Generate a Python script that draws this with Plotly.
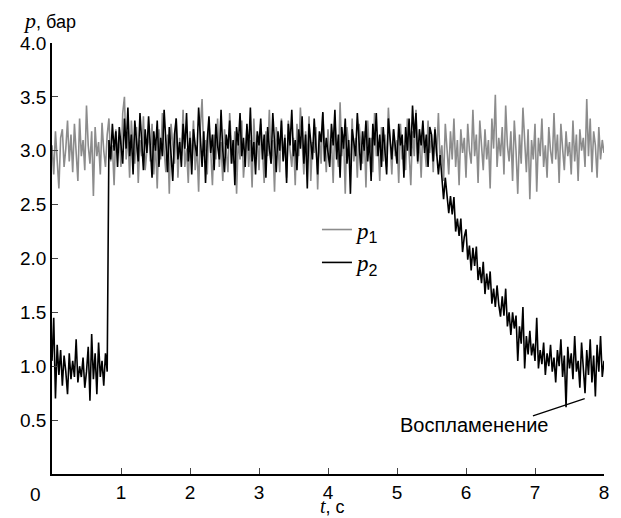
import plotly.graph_objects as go

# sampling step of the recorded signals, s
t_step = 0.025

# p1 (grey), bar, one row = 0.5 s
p1 = [
    3.05, 2.78, 3.18, 2.92, 2.65, 3.12, 3.20, 2.85, 3.02, 3.28, 2.90, 3.15, 2.80, 3.25, 3.00, 2.72, 3.30, 2.95, 3.10, 2.82,
    3.42, 3.05, 2.88, 3.18, 2.58, 3.22, 2.95, 3.08, 2.78, 3.26, 3.00, 2.85, 3.15, 3.30, 2.90, 3.05, 2.68, 3.20, 2.98, 3.12,
    2.85, 3.35, 3.50, 2.92, 3.18, 2.75, 3.28, 3.02, 2.88, 3.22, 2.70, 3.10, 2.95, 3.32, 2.82, 3.05, 3.18, 2.90, 3.25, 2.78,
    3.08, 2.65, 3.20, 2.92, 3.35, 3.00, 2.80, 3.15, 2.60, 3.25, 3.05, 2.88, 3.30, 2.75, 3.12, 2.95, 3.38, 2.85, 3.02, 2.70,
    3.18, 2.90, 3.28, 2.82, 3.05, 2.62, 3.22, 3.48, 2.95, 3.10, 2.78, 3.25, 3.00, 2.68, 3.15, 2.92, 3.30, 2.85, 3.08, 2.72,
    3.20, 2.98, 2.80, 3.35, 3.05, 2.88, 3.18, 2.60, 3.12, 2.92, 3.28, 2.75, 3.02, 3.22, 2.85, 3.10, 2.66, 3.30, 2.95, 3.15,
    2.82, 3.25, 3.02, 2.70, 3.18, 2.95, 3.38, 2.88, 3.10, 2.62, 3.22, 3.05, 2.80, 3.30, 2.92, 3.15, 2.75, 3.28, 3.00, 2.85,
    3.12, 2.68, 3.25, 2.95, 3.40, 3.02, 2.78, 3.18, 2.90, 3.32, 2.72, 3.08, 2.98, 3.22, 2.64, 3.15, 2.88, 3.35, 3.05, 2.80,
    3.20, 2.92, 3.10, 2.70, 3.28, 3.00, 2.85, 3.45, 2.95, 3.15, 2.60, 3.22, 3.05, 2.82, 3.30, 2.90, 3.12, 2.75, 3.25, 3.02,
    2.88, 3.18, 2.66, 3.28, 3.00, 3.12, 2.80, 3.35, 2.95, 3.08, 2.72, 3.22, 2.90, 3.15, 2.85, 3.40, 3.02, 2.78, 3.20, 2.95,
    3.10, 2.70, 3.25, 2.92, 3.05, 2.82, 3.30, 3.00, 2.68, 3.18, 2.95, 3.38, 2.88, 3.12, 2.75, 3.22, 3.02, 2.85, 3.28, 2.98,
    3.15, 2.80, 3.22, 2.95, 3.35, 2.88, 3.05, 2.72, 3.25, 3.00, 2.78, 3.18, 2.92, 3.30, 2.85, 3.10, 2.68, 3.20, 2.98, 3.12,
    2.75, 3.25, 3.00, 2.88, 3.38, 2.95, 3.15, 2.70, 3.28, 3.05, 2.82, 3.20, 2.92, 3.10, 2.65, 3.30, 3.02, 3.52, 2.85, 3.12,
    2.95, 3.22, 2.78, 3.42, 3.05, 2.90, 3.18, 2.72, 3.28, 3.00, 2.60, 3.15, 2.88, 3.40, 3.05, 2.80, 3.20, 2.55, 3.10, 2.92,
    3.25, 2.62, 3.12, 2.95, 3.30, 2.85, 3.05, 2.75, 3.22, 3.00, 2.88, 3.35, 2.92, 3.15, 2.70, 3.25, 3.02, 2.82, 3.18, 2.95,
    3.08, 2.78, 3.28, 2.90, 3.15, 2.72, 3.20, 3.00, 3.12, 2.85, 3.48, 2.95, 3.30, 2.80, 3.18, 3.05, 2.75, 3.22, 2.92, 3.10,
    2.98,
]

# p2 (black), bar, one row = 0.5 s
p2 = [
    1.05, 1.45, 0.70, 1.20, 0.92, 1.15, 0.82, 1.10, 0.95, 0.74, 1.12, 0.88, 1.05, 0.90, 1.25, 0.85, 1.00, 0.90, 1.08, 0.80,
    0.95, 1.18, 0.68, 1.30, 0.88, 1.12, 0.74, 1.22, 0.90, 1.05, 0.82, 1.12, 0.95, 3.10, 2.92, 3.25, 3.00, 3.18, 2.85, 3.22,
    3.05, 2.88, 3.30, 3.02, 3.40, 2.95, 3.15, 2.78, 3.28, 3.05, 2.90, 3.35, 3.10, 2.82, 3.20, 2.98, 3.32, 3.05, 2.75, 3.18,
    3.00, 3.28, 2.85, 3.12, 2.95, 3.38, 3.05, 2.80, 3.22, 3.00, 2.72, 3.15, 3.30, 2.92, 3.08, 2.85, 3.25, 3.02, 3.35, 2.90,
    3.12, 2.78, 3.20, 3.05, 2.95, 3.40, 3.08, 2.85, 3.18, 2.70, 3.10, 3.32, 2.98, 3.15, 2.82, 3.25, 3.05, 2.92, 3.38, 3.00,
    2.80, 3.15, 3.02, 3.28, 2.88, 3.10, 2.68, 3.22, 3.05, 3.35, 2.95, 3.12, 2.85, 3.25, 3.00, 3.40, 2.90, 3.08, 2.78, 3.18,
    3.05, 3.30, 2.92, 3.15, 2.75, 3.22, 3.02, 2.88, 3.35, 3.08, 2.80, 3.18, 3.00, 3.28, 2.90, 3.12, 2.70, 3.25, 3.05, 3.38,
    2.95, 3.10, 2.82, 3.20, 3.02, 3.32, 2.88, 3.15, 2.65, 3.25, 3.05, 2.92, 3.30, 3.00, 2.78, 3.18, 3.08, 3.36, 2.90, 3.12,
    3.00, 2.85, 3.25, 3.05, 3.38, 2.92, 3.15, 2.75, 3.22, 3.02, 3.30, 2.88, 3.10, 2.60, 3.20, 3.05, 2.95, 3.35, 3.08, 2.82,
    3.18, 3.00, 3.28, 2.90, 3.12, 2.72, 3.25, 3.05, 3.35, 2.95, 3.15, 2.85, 3.22, 3.02, 2.78, 3.30, 3.08, 2.92, 3.20, 3.00,
    2.88, 3.25, 3.05, 3.15, 2.75, 3.22, 3.00, 3.30, 2.95, 3.42, 3.12, 3.35, 2.90, 3.20, 3.05, 3.28, 2.98, 3.15, 2.85, 3.22,
    3.15, 2.90, 3.20, 2.98, 2.78, 2.96, 2.72, 2.55, 2.75, 2.61, 2.42, 2.58, 2.41, 2.57, 2.25, 2.37, 2.21, 2.37, 2.06, 2.20,
    2.27, 1.99, 2.12, 1.89, 2.10, 1.93, 2.11, 1.80, 1.92, 1.77, 1.97, 1.67, 1.86, 1.71, 1.88, 1.58, 1.72, 1.55, 1.75, 1.57,
    1.46, 1.65, 1.47, 1.72, 1.37, 1.50, 1.29, 1.50, 1.35, 1.47, 1.05, 1.37, 1.21, 1.55, 0.98, 1.28, 1.11, 1.33, 1.10, 1.21,
    1.05, 1.45, 0.98, 1.15, 1.02, 1.22, 0.92, 1.12, 1.00, 1.20, 0.95, 1.08, 0.85, 1.15, 1.00, 1.25, 0.90, 1.10, 0.62, 1.18,
    0.98, 1.12, 0.88, 1.28, 0.95, 1.05, 0.80, 1.22, 1.00, 0.75, 1.15, 0.92, 1.25, 0.85, 1.10, 0.72, 1.20, 0.95, 1.28, 0.90,
    1.05,
]

t = [round(i * t_step, 4) for i in range(len(p1))]

x_ticks = [1, 2, 3, 4, 5, 6, 7, 8]
y_ticks = [0.5, 1.0, 1.5, 2.0, 2.5, 3.0, 3.5, 4.0]
y_ticktext = ["0.5", "1.0", "1.5", "2.0", "2.5", "3.0", "3.5", "4.0"]

SANS = "Liberation Sans, Arial, sans-serif"
SERIF = "Liberation Serif, DejaVu Serif, serif"

fig = go.Figure()
fig.add_trace(go.Scatter(
    x=t, y=p1, mode="lines",
    line=dict(color="#8c8c8c", width=1.6),
    name="<i>p</i><span style='font-family:Liberation Sans'><sub>1</sub></span>",
))
fig.add_trace(go.Scatter(
    x=t, y=p2, mode="lines",
    line=dict(color="#000000", width=1.6),
    name="<i>p</i><span style='font-family:Liberation Sans'><sub>2</sub></span>",
))

# pointer line of the "ignition" label
fig.add_shape(type="line", xref="x", yref="y",
              x0=6.97, y0=0.54, x1=7.72, y1=0.70,
              line=dict(color="black", width=1.2))

fig.add_annotation(x=6.12, y=0.455, xref="x", yref="y", text="Воспламенение",
                   showarrow=False, font=dict(family=SANS, size=20, color="black"))

# axis titles and the lone origin label
fig.add_annotation(x=-0.056, y=1.052, xref="paper", yref="paper", xanchor="left", yanchor="middle",
                   text="<span style='font-family:Liberation Serif;font-size:22px'><i>p</i></span>, бар",
                   showarrow=False, font=dict(family=SANS, size=18, color="black"))
fig.add_annotation(x=0.508, y=-0.074, xref="paper", yref="paper", xanchor="center", yanchor="middle",
                   text="<span style='font-family:Liberation Serif;font-size:20px'><i>t</i></span>, с",
                   showarrow=False, font=dict(family=SANS, size=18, color="black"))
fig.add_annotation(x=-0.03, y=-0.018, xref="paper", yref="paper", xanchor="center", yanchor="top",
                   text="0", showarrow=False, font=dict(family=SANS, size=19, color="black"))

# the page body adds an 8 px offset, so the figure is 8 px smaller and margins compensate
fig.update_layout(
    width=613, height=510,
    margin=dict(l=39, r=16, t=35, b=44),
    paper_bgcolor="white", plot_bgcolor="white",
    font=dict(family=SANS, size=19, color="black"),
    showlegend=True,
    legend=dict(x=0.48, y=0.617, xanchor="left", yanchor="top",
                bgcolor="rgba(0,0,0,0)", borderwidth=0,
                font=dict(family=SERIF, size=23, color="black"),
                tracegroupgap=0),
    xaxis=dict(range=[0, 8], tickvals=x_ticks, ticks="inside", ticklen=6, tickwidth=1.3,
               showline=True, linecolor="black", linewidth=1.5, showgrid=False, zeroline=False,
               tickfont=dict(family=SANS, size=19)),
    yaxis=dict(range=[0, 4], tickvals=y_ticks, ticktext=y_ticktext, ticks="inside", ticklen=6,
               tickwidth=1.3, showline=True, linecolor="black", linewidth=1.5, showgrid=False,
               zeroline=False, tickfont=dict(family=SANS, size=19)),
)

fig.write_html("out.html")
